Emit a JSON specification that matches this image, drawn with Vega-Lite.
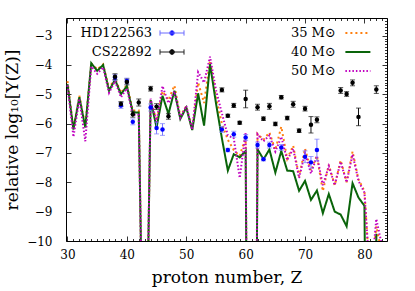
{
  "$schema": "https://vega.github.io/schema/vega-lite/v6.json",
  "width": 321,
  "height": 223,
  "autosize": {"type": "none"},
  "padding": {"left": 66, "top": 18, "right": 28, "bottom": 50},
  "background": "white",
  "config": {
    "view": {"stroke": "black", "strokeWidth": 1},
    "font": "DejaVu Serif",
    "axis": {
      "grid": false, "domain": false, "tickColor": "black", "tickWidth": 0.8,
      "labelFont": "DejaVu Serif", "labelFontSize": 12, "labelColor": "black",
      "titleFont": "DejaVu Serif", "titleFontSize": 17, "titleFontWeight": "normal", "titleColor": "black",
      "labelOverlap": false, "labelFlush": false, "labelBound": false
    },
    "legend": {"labelFont": "DejaVu Serif", "labelFontSize": 13, "labelColor": "black", "labelFontWeight": "normal", "padding": 0}
  },
  "datasets": {
    "model": [
      {"Z":30,"35 M⊙":-4.55,"40 M⊙":-4.65,"50 M⊙":-4.7},
      {"Z":31,"35 M⊙":-6.15,"40 M⊙":-6.2,"50 M⊙":-6.45},
      {"Z":32,"35 M⊙":-5.05,"40 M⊙":-5.1,"50 M⊙":-5.15},
      {"Z":33,"35 M⊙":-6.1,"40 M⊙":-6.13,"50 M⊙":-6.6},
      {"Z":34,"35 M⊙":-3.95,"40 M⊙":-3.94,"50 M⊙":-4.05},
      {"Z":35,"35 M⊙":-4.15,"40 M⊙":-4.2,"50 M⊙":-4.3},
      {"Z":36,"35 M⊙":-3.98,"40 M⊙":-4.0,"50 M⊙":-4.08},
      {"Z":37,"35 M⊙":-4.8,"40 M⊙":-4.88,"50 M⊙":-4.95},
      {"Z":38,"35 M⊙":-4.45,"40 M⊙":-4.5,"50 M⊙":-4.55},
      {"Z":39,"35 M⊙":-4.95,"40 M⊙":-5.0,"50 M⊙":-5.1},
      {"Z":40,"35 M⊙":-4.68,"40 M⊙":-4.72,"50 M⊙":-4.8},
      {"Z":41,"35 M⊙":-5.55,"40 M⊙":-5.62,"50 M⊙":-5.7},
      {"Z":42,"35 M⊙":-5.55,"40 M⊙":-5.62,"50 M⊙":-5.7},
      {"Z":43,"35 M⊙":-18,"40 M⊙":-18,"50 M⊙":-18},
      {"Z":44,"35 M⊙":-5.2,"40 M⊙":-5.2,"50 M⊙":-5.15},
      {"Z":45,"35 M⊙":-5.9,"40 M⊙":-6.13,"50 M⊙":-5.95},
      {"Z":46,"35 M⊙":-4.9,"40 M⊙":-5.05,"50 M⊙":-4.72},
      {"Z":47,"35 M⊙":-5.2,"40 M⊙":-5.67,"50 M⊙":-5.3},
      {"Z":48,"35 M⊙":-4.7,"40 M⊙":-4.88,"50 M⊙":-4.9},
      {"Z":49,"35 M⊙":-5.75,"40 M⊙":-5.84,"50 M⊙":-5.8},
      {"Z":50,"35 M⊙":-5.4,"40 M⊙":-5.45,"50 M⊙":-5.4},
      {"Z":51,"35 M⊙":-6.2,"40 M⊙":-6.22,"50 M⊙":-6.2},
      {"Z":52,"35 M⊙":-4.6,"40 M⊙":-4.97,"50 M⊙":-4.25},
      {"Z":53,"35 M⊙":-5.3,"40 M⊙":-6.07,"50 M⊙":-4.6},
      {"Z":54,"35 M⊙":-3.85,"40 M⊙":-3.97,"50 M⊙":-3.72},
      {"Z":55,"35 M⊙":-5.1,"40 M⊙":-5.3,"50 M⊙":-4.85},
      {"Z":56,"35 M⊙":-6.0,"40 M⊙":-6.5,"50 M⊙":-5.65},
      {"Z":57,"35 M⊙":-6.55,"40 M⊙":-7.6,"50 M⊙":-6.4},
      {"Z":58,"35 M⊙":-6.9,"40 M⊙":-7.04,"50 M⊙":-6.5},
      {"Z":59,"35 M⊙":-7.1,"40 M⊙":-7.15,"50 M⊙":-7.85},
      {"Z":60,"35 M⊙":-6.45,"40 M⊙":-6.93,"50 M⊙":-6.3},
      {"Z":61,"35 M⊙":-40,"40 M⊙":-40,"50 M⊙":-40},
      {"Z":62,"35 M⊙":-6.35,"40 M⊙":-6.87,"50 M⊙":-6.36},
      {"Z":63,"35 M⊙":-6.55,"40 M⊙":-7.22,"50 M⊙":-6.6},
      {"Z":64,"35 M⊙":-6.3,"40 M⊙":-6.88,"50 M⊙":-6.4},
      {"Z":65,"35 M⊙":-6.9,"40 M⊙":-7.67,"50 M⊙":-6.95},
      {"Z":66,"35 M⊙":-6.1,"40 M⊙":-6.93,"50 M⊙":-6.45},
      {"Z":67,"35 M⊙":-7.2,"40 M⊙":-7.6,"50 M⊙":-7.25},
      {"Z":68,"35 M⊙":-6.75,"40 M⊙":-7.62,"50 M⊙":-6.85},
      {"Z":69,"35 M⊙":-7.8,"40 M⊙":-8.29,"50 M⊙":-7.85},
      {"Z":70,"35 M⊙":-6.85,"40 M⊙":-7.95,"50 M⊙":-7.0},
      {"Z":71,"35 M⊙":-7.6,"40 M⊙":-8.6,"50 M⊙":-7.7},
      {"Z":72,"35 M⊙":-7.1,"40 M⊙":-8.28,"50 M⊙":-7.1},
      {"Z":73,"35 M⊙":-8.3,"40 M⊙":-9.05,"50 M⊙":-8.1},
      {"Z":74,"35 M⊙":-7.4,"40 M⊙":-8.4,"50 M⊙":-7.45},
      {"Z":75,"35 M⊙":-8.1,"40 M⊙":-9.0,"50 M⊙":-8.1},
      {"Z":76,"35 M⊙":-7.25,"40 M⊙":-9.1,"50 M⊙":-7.3},
      {"Z":77,"35 M⊙":-8.0,"40 M⊙":-9.5,"50 M⊙":-8.0},
      {"Z":78,"35 M⊙":-6.95,"40 M⊙":-8.03,"50 M⊙":-7.05},
      {"Z":79,"35 M⊙":-7.9,"40 M⊙":-8.52,"50 M⊙":-7.95},
      {"Z":80,"35 M⊙":-8.3,"40 M⊙":-8.8,"50 M⊙":-8.35},
      {"Z":81,"35 M⊙":-11.5,"40 M⊙":-30,"50 M⊙":-11.5},
      {"Z":82,"35 M⊙":-9.5,"40 M⊙":-9.75,"50 M⊙":-9.25},
      {"Z":83,"35 M⊙":-10.5,"40 M⊙":-30,"50 M⊙":-10.2}
    ],
    "obs": [
      {"Z":38,"star":"HD122563","v":-4.43,"lo":-4.53,"hi":-4.33},
      {"Z":39,"star":"HD122563","v":-5.38,"lo":-5.48,"hi":-5.28},
      {"Z":40,"star":"HD122563","v":-4.55,"lo":-4.65,"hi":-4.45},
      {"Z":41,"star":"HD122563","v":-5.94,"lo":-6.04,"hi":-5.84},
      {"Z":44,"star":"HD122563","v":-5.45,"lo":-5.57,"hi":-5.33},
      {"Z":45,"star":"HD122563","v":-6.15,"lo":-6.35,"hi":-5.95},
      {"Z":46,"star":"HD122563","v":-6.2,"lo":-6.4,"hi":-6.0},
      {"Z":56,"star":"HD122563","v":-6.2,"lo":-6.3,"hi":-6.1},
      {"Z":57,"star":"HD122563","v":-6.9,"lo":-6.96,"hi":-6.84},
      {"Z":58,"star":"HD122563","v":-6.36,"lo":-6.46,"hi":-6.26},
      {"Z":60,"star":"HD122563","v":-6.47,"lo":-6.57,"hi":-6.37},
      {"Z":62,"star":"HD122563","v":-6.73,"lo":-6.83,"hi":-6.63},
      {"Z":63,"star":"HD122563","v":-7.21,"lo":-7.27,"hi":-7.15},
      {"Z":64,"star":"HD122563","v":-6.73,"lo":-6.83,"hi":-6.63},
      {"Z":66,"star":"HD122563","v":-6.81,"lo":-6.91,"hi":-6.71},
      {"Z":70,"star":"HD122563","v":-7.13,"lo":-7.33,"hi":-6.93},
      {"Z":71,"star":"HD122563","v":-7.32,"lo":-7.52,"hi":-7.12},
      {"Z":72,"star":"HD122563","v":-6.9,"lo":-7.27,"hi":-6.53},
      {"Z":38,"star":"CS22892","v":-4.4,"lo":-4.5,"hi":-4.3},
      {"Z":39,"star":"CS22892","v":-5.33,"lo":-5.41,"hi":-5.25},
      {"Z":40,"star":"CS22892","v":-4.58,"lo":-4.68,"hi":-4.48},
      {"Z":41,"star":"CS22892","v":-5.68,"lo":-5.78,"hi":-5.58},
      {"Z":42,"star":"CS22892","v":-5.28,"lo":-5.4,"hi":-5.16},
      {"Z":44,"star":"CS22892","v":-4.81,"lo":-4.89,"hi":-4.73},
      {"Z":45,"star":"CS22892","v":-5.42,"lo":-5.52,"hi":-5.32},
      {"Z":47,"star":"CS22892","v":-5.75,"lo":-5.85,"hi":-5.65},
      {"Z":56,"star":"CS22892","v":-4.85,"lo":-4.92,"hi":-4.78},
      {"Z":57,"star":"CS22892","v":-5.73,"lo":-5.78,"hi":-5.68},
      {"Z":58,"star":"CS22892","v":-5.38,"lo":-5.45,"hi":-5.31},
      {"Z":59,"star":"CS22892","v":-5.97,"lo":-6.02,"hi":-5.92},
      {"Z":60,"star":"CS22892","v":-5.16,"lo":-5.46,"hi":-4.86},
      {"Z":62,"star":"CS22892","v":-5.44,"lo":-5.54,"hi":-5.34},
      {"Z":63,"star":"CS22892","v":-5.83,"lo":-5.89,"hi":-5.77},
      {"Z":64,"star":"CS22892","v":-5.41,"lo":-5.51,"hi":-5.31},
      {"Z":65,"star":"CS22892","v":-6.01,"lo":-6.07,"hi":-5.95},
      {"Z":66,"star":"CS22892","v":-5.1,"lo":-5.16,"hi":-5.04},
      {"Z":67,"star":"CS22892","v":-5.81,"lo":-5.87,"hi":-5.75},
      {"Z":68,"star":"CS22892","v":-5.34,"lo":-5.44,"hi":-5.24},
      {"Z":69,"star":"CS22892","v":-6.24,"lo":-6.3,"hi":-6.18},
      {"Z":70,"star":"CS22892","v":-5.49,"lo":-5.57,"hi":-5.41},
      {"Z":71,"star":"CS22892","v":-6.04,"lo":-6.32,"hi":-5.76},
      {"Z":72,"star":"CS22892","v":-5.87,"lo":-5.97,"hi":-5.77},
      {"Z":76,"star":"CS22892","v":-4.87,"lo":-4.97,"hi":-4.77},
      {"Z":77,"star":"CS22892","v":-4.99,"lo":-5.07,"hi":-4.91},
      {"Z":78,"star":"CS22892","v":-4.61,"lo":-4.71,"hi":-4.51},
      {"Z":79,"star":"CS22892","v":-5.77,"lo":-6.07,"hi":-5.47},
      {"Z":82,"star":"CS22892","v":-4.84,"lo":-4.97,"hi":-4.71}
    ]
  },
  "resolve": {
    "scale": {"color": "independent"},
    "axis": {"x": "independent", "y": "independent"},
    "legend": {"color": "independent"}
  },
  "layer": [
    {
      "data": {"name": "model"},
      "transform": [{"fold": ["35 M⊙", "40 M⊙", "50 M⊙"], "as": ["m", "v"]}],
      "mark": {"type": "line", "strokeWidth": 2, "clip": true},
      "encoding": {
        "x": {"field": "Z", "type": "quantitative",
          "scale": {"domain": [29.75, 83.8], "nice": false, "zero": false},
          "axis": {"orient": "bottom", "title": "proton number, Z",
            "values": [30,31,32,33,34,35,36,37,38,39,40,41,42,43,44,45,46,47,48,49,50,51,52,53,54,55,56,57,58,59,60,61,62,63,64,65,66,67,68,69,70,71,72,73,74,75,76,77,78,79,80,81,82,83],
            "labelExpr": "datum.value % 10 === 0 ? datum.label : ''",
            "tickSize": {"condition": {"test": "datum.value % 10 === 0", "value": -5}, "value": -2.5},
            "labelPadding": 13, "titlePadding": 7}},
        "y": {"field": "v", "type": "quantitative",
          "scale": {"domain": [-10, -2.4], "nice": false, "zero": false},
          "axis": {"orient": "left", "title": "relative log₁₀[Y(Z)]", "tickCount": 76, "format": "d",
            "labelExpr": "abs(datum.value - round(datum.value)) < 0.001 ? datum.label : ''",
            "tickSize": {"condition": {"test": "abs(datum.value - round(datum.value)) < 0.001", "value": -5}, "value": -2.5},
            "labelPadding": 19, "titlePadding": 5}},
        "color": {"field": "m", "type": "nominal",
          "scale": {"domain": ["35 M⊙", "40 M⊙", "50 M⊙"], "range": ["#ff7f0e", "#0a640a", "#c000c0"]},
          "legend": {"orient": "none", "legendX": 285.4, "legendY": 8.5, "title": null,
            "symbolType": "M-3.125,0H3.125", "symbolSize": 64, "symbolStrokeWidth": 2.2,
            "labelAlign": "right", "labelOffset": -28.6, "rowPadding": 5,
            "encode": {"symbols": {"update": {"strokeDash": {"signal": "datum.value === '35 M⊙' ? [2, 3] : datum.value === '50 M⊙' ? [1.5, 2] : [1, 0]"}}}}}},
        "strokeDash": {"field": "m", "type": "nominal",
          "scale": {"domain": ["35 M⊙", "40 M⊙", "50 M⊙"], "range": [[2, 3], [1, 0], [1.5, 2]]},
          "legend": null}
      }
    },
    {
      "data": {"name": "obs"},
      "mark": {"type": "rule", "strokeWidth": 1},
      "encoding": {
        "x": {"field": "Z", "type": "quantitative", "axis": null},
        "y": {"field": "lo", "type": "quantitative", "axis": null},
        "y2": {"field": "hi"},
        "color": {"field": "star", "type": "nominal", "scale": {"domain": ["HD122563", "CS22892"], "range": ["#7a7aff", "#111111"]}, "legend": null}
      }
    },
    {
      "data": {"name": "obs"},
      "mark": {"type": "tick", "orient": "horizontal", "thickness": 1, "size": 5},
      "encoding": {
        "x": {"field": "Z", "type": "quantitative", "axis": null},
        "y": {"field": "lo", "type": "quantitative", "axis": null},
        "color": {"field": "star", "type": "nominal", "scale": {"domain": ["HD122563", "CS22892"], "range": ["#7a7aff", "#111111"]}, "legend": null}
      }
    },
    {
      "data": {"name": "obs"},
      "mark": {"type": "tick", "orient": "horizontal", "thickness": 1, "size": 5},
      "encoding": {
        "x": {"field": "Z", "type": "quantitative", "axis": null},
        "y": {"field": "hi", "type": "quantitative", "axis": null},
        "color": {"field": "star", "type": "nominal", "scale": {"domain": ["HD122563", "CS22892"], "range": ["#7a7aff", "#111111"]}, "legend": null}
      }
    },
    {
      "data": {"name": "obs"},
      "mark": {"type": "circle", "size": 20, "opacity": 1},
      "encoding": {
        "x": {"field": "Z", "type": "quantitative",
          "axis": {"orient": "top", "title": null, "labels": false,
            "values": [30,31,32,33,34,35,36,37,38,39,40,41,42,43,44,45,46,47,48,49,50,51,52,53,54,55,56,57,58,59,60,61,62,63,64,65,66,67,68,69,70,71,72,73,74,75,76,77,78,79,80,81,82,83],
            "tickSize": {"condition": {"test": "datum.value % 10 === 0", "value": -5}, "value": -2.5}}},
        "y": {"field": "v", "type": "quantitative",
          "axis": {"orient": "right", "title": null, "labels": false, "tickCount": 76,
            "tickSize": {"condition": {"test": "abs(datum.value - round(datum.value)) < 0.001", "value": -5}, "value": -2.5}}},
        "color": {"field": "star", "type": "nominal",
          "scale": {"domain": ["HD122563", "CS22892"], "range": ["#0000ff", "#000000"]},
          "legend": {"orient": "none", "legendX": 99.5, "legendY": 8.5, "title": null,
            "symbolType": "M-3,0H3M-3,-0.66V0.66M3,-0.66V0.66M0.6,0A0.6,0.6,0,1,1,-0.6,0A0.6,0.6,0,1,1,0.6,0Z",
            "symbolSize": 64, "symbolStrokeWidth": 1, "symbolOpacity": 1, "labelAlign": "right", "labelOffset": -26.5, "rowPadding": 5,
            "encode": {"symbols": {"update": {"stroke": {"signal": "datum.value === 'HD122563' ? '#6a6aff' : '#222222'"}}}}}}
      }
    }
  ]
}
